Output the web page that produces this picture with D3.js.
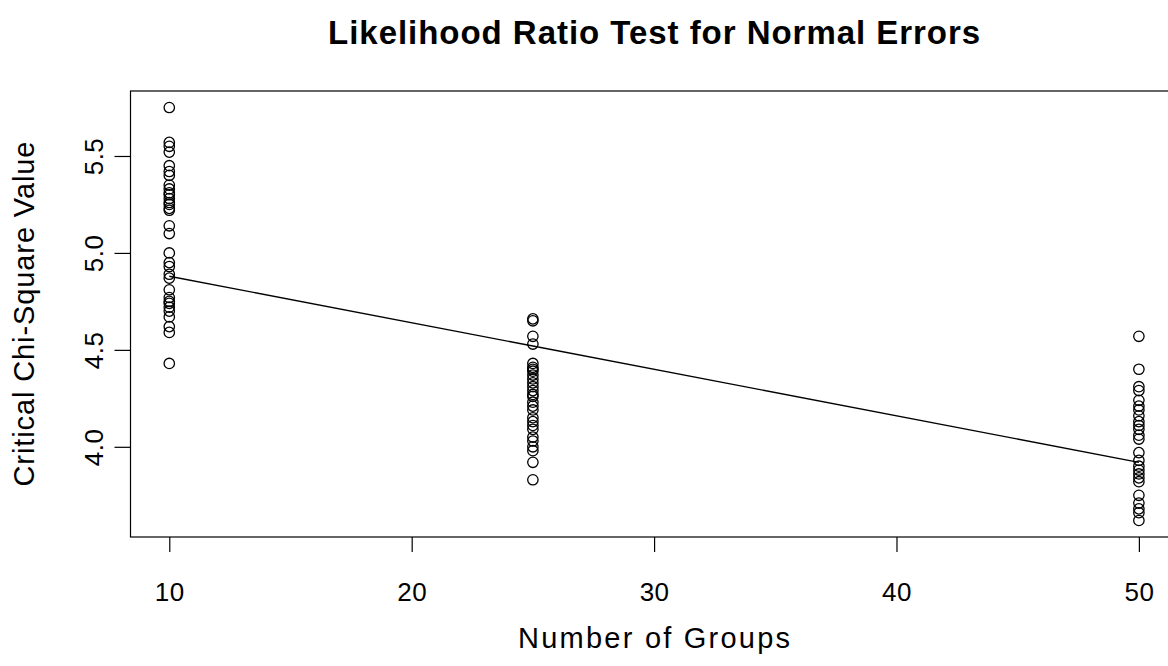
<!DOCTYPE html>
<html>
<head>
<meta charset="utf-8">
<script src="https://cdn.jsdelivr.net/npm/d3@7"></script>
<style>
  html, body { margin: 0; padding: 0; background: #fff; }
  svg { display: block; font-family: "Liberation Sans", Arial, sans-serif; }
</style>
</head>
<body>
<svg id="chart" width="1168" height="666"></svg>
<script>
// ---- data ----
const groups = [10, 25, 50];
const values10 = [5.75, 5.57, 5.55, 5.52, 5.45, 5.42, 5.40, 5.35, 5.33, 5.31, 5.30, 5.28, 5.26, 5.25, 5.23, 5.22, 5.14, 5.10, 5.00, 4.95, 4.93, 4.89, 4.87, 4.81, 4.77, 4.75, 4.74, 4.72, 4.70, 4.67, 4.62, 4.59, 4.43];
const values25 = [4.66, 4.65, 4.57, 4.53, 4.43, 4.41, 4.40, 4.39, 4.37, 4.35, 4.33, 4.31, 4.29, 4.27, 4.26, 4.23, 4.21, 4.19, 4.15, 4.13, 4.11, 4.09, 4.05, 4.03, 4.00, 3.98, 3.92, 3.83];
const values50 = [4.57, 4.40, 4.31, 4.29, 4.24, 4.21, 4.19, 4.16, 4.13, 4.11, 4.09, 4.06, 4.04, 3.97, 3.93, 3.90, 3.88, 3.86, 3.84, 3.82, 3.75, 3.71, 3.68, 3.66, 3.62];
const fittedY = [4.88, 4.52, 3.92];
const xTicks = [10, 20, 30, 40, 50];
const yTicks = [4.0, 4.5, 5.0, 5.5];
const titleText = "Likelihood Ratio Test for Normal Errors";
const xLabel = "Number of Groups";
const yLabel = "Critical Chi-Square Value";

const points = [];
[values10, values25, values50].forEach((arr, i) => arr.forEach(v => points.push({x: groups[i], y: v})));

// ---- layout ----
const svg = d3.select("#chart");
const plotLeft = 130.5, plotTop = 91, plotBottom = 537;
const pxPerUnitX = 24.24;

// R-style 4% padding
const xExt = d3.extent(groups), yExt = d3.extent(points, d => d.y);
const xPad = (xExt[1] - xExt[0]) * 0.04, yPad = (yExt[1] - yExt[0]) * 0.04;
const xDom = [xExt[0] - xPad, xExt[1] + xPad];
const plotRight = plotLeft + (xDom[1] - xDom[0]) * pxPerUnitX;
const x = d3.scaleLinear().domain(xDom).range([plotLeft, plotRight]);
const y = d3.scaleLinear().domain([yExt[0] - yPad, yExt[1] + yPad]).range([plotBottom, plotTop]);

const tickFs = 26, labFs = 29;

// box
svg.append("rect").attr("x", plotLeft).attr("y", plotTop)
  .attr("width", plotRight - plotLeft).attr("height", plotBottom - plotTop)
  .attr("fill", "none").attr("stroke", "#000").attr("stroke-width", 1.2);

// x axis
const gx = svg.append("g").attr("transform", `translate(0,${plotBottom})`)
  .call(d3.axisBottom(x).tickValues(xTicks).tickSize(15).tickSizeOuter(0).tickPadding(31).tickFormat(d3.format("d")));
gx.select(".domain").remove();
gx.selectAll(".tick line").attr("stroke", "#000").attr("stroke-width", 1.2);
gx.selectAll(".tick text").attr("font-size", tickFs).attr("fill", "#000")
  .attr("font-family", "Liberation Sans, Arial, sans-serif").attr("dy", "0.70em")
  .attr("letter-spacing", "0.5px");

// y axis
const gy = svg.append("g").attr("transform", `translate(${plotLeft},0)`)
  .call(d3.axisLeft(y).tickValues(yTicks).tickSize(16).tickSizeOuter(0).tickFormat(d3.format(".1f")));
gy.select(".domain").remove();
gy.selectAll(".tick line").attr("stroke", "#000").attr("stroke-width", 1.2);
gy.selectAll(".tick text")
  .attr("font-size", tickFs).attr("fill", "#000").attr("font-family", "Liberation Sans, Arial, sans-serif")
  .attr("x", null).attr("dy", null)
  .attr("text-anchor", "middle").attr("letter-spacing", "0.5px")
  .attr("transform", "translate(-28,0) rotate(-90)");

// points
svg.append("g").selectAll("circle").data(points).join("circle")
  .attr("cx", d => x(d.x)).attr("cy", d => y(d.y)).attr("r", 5.2)
  .attr("fill", "none").attr("stroke", "#000").attr("stroke-width", 1.3);

// fitted line
const line = d3.line().x((d, i) => x(groups[i])).y(d => y(d));
svg.append("path").datum(fittedY).attr("d", line)
  .attr("fill", "none").attr("stroke", "#000").attr("stroke-width", 1.4);

// title & labels
const cxMid = (plotLeft + plotRight) / 2;
svg.append("text").attr("x", cxMid).attr("y", 44).attr("text-anchor", "middle")
  .attr("font-size", 33).attr("font-weight", "bold")
  .attr("textLength", 652).attr("lengthAdjust", "spacing").text(titleText);
svg.append("text").attr("x", cxMid).attr("y", 648).attr("text-anchor", "middle")
  .attr("font-size", labFs).attr("textLength", 272).attr("lengthAdjust", "spacing").text(xLabel);
svg.append("text").attr("transform", `translate(34,${(plotTop + plotBottom) / 2}) rotate(-90)`)
  .attr("text-anchor", "middle").attr("font-size", labFs)
  .attr("textLength", 345).attr("lengthAdjust", "spacing").text(yLabel);
</script>
</body>
</html>
